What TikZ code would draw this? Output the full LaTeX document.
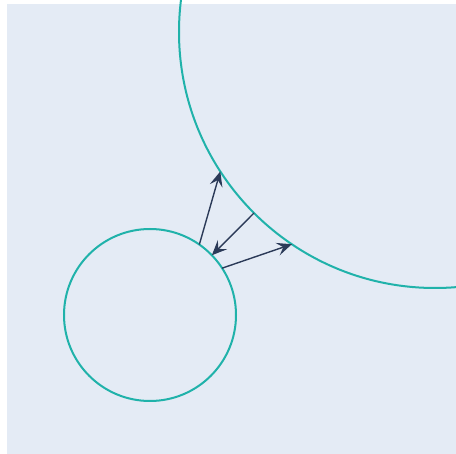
\documentclass[tikz,border=0pt]{standalone}
\usepackage{xcolor}
\usepackage{tikz}
\usetikzlibrary{arrows.meta,positioning}

\definecolor{bgblue}{HTML}{E4EBF5}
\definecolor{ringteal}{HTML}{20B2AA}
\definecolor{arrownavy}{HTML}{2B3A58}

\begin{document}
\begin{tikzpicture}[
    x=1pt, y=-1pt,
    ring/.style={circle, draw=ringteal, line width=2pt, inner sep=0pt, outer sep=0pt},
    arrow/.style={-{Stealth[length=15pt, width=13pt, inset=6pt]}, draw=arrownavy, line width=1.4pt}
]
    \useasboundingbox (0,0) rectangle (456,454);
    \clip (0,0) rectangle (456,454);
    \fill[bgblue] (7,4) rectangle (456,454);

    \node[ring, minimum size=172pt] (small) at (150,315) {};
    \node[ring, minimum size=512pt] (big) at (435,32) {};

    \draw[arrow] (small.55.7) -- (big.213.4);
    \draw[arrow] (big.225) -- (small.44.2);
    \draw[arrow] (small.33.3) -- (big.236.2);
\end{tikzpicture}
\end{document}
